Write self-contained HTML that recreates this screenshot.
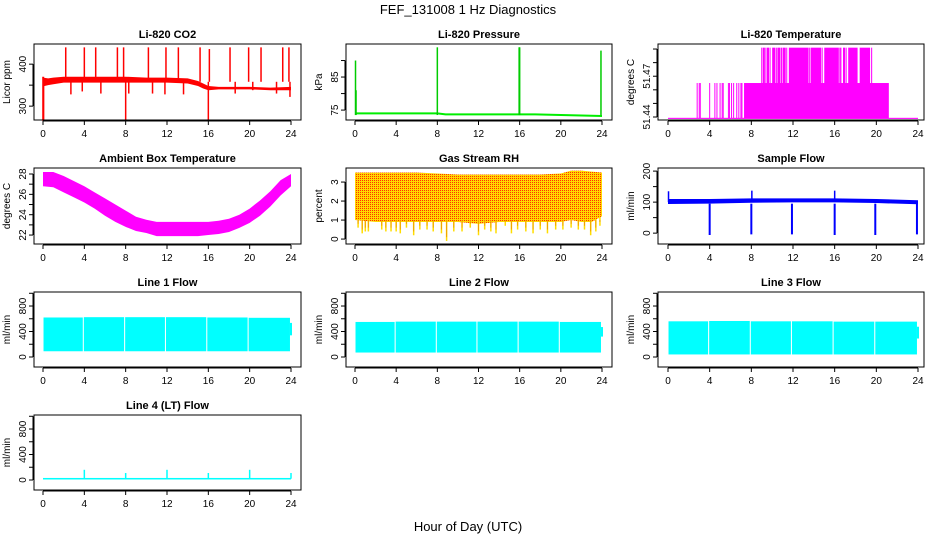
<!DOCTYPE html>
<html><head><meta charset="utf-8"><title>FEF_131008 1 Hz Diagnostics</title>
<style>
body{margin:0;background:#fff;}
svg{display:block;font-family:"Liberation Sans",sans-serif;}
</style></head>
<body>
<svg id="chart" width="936" height="540" viewBox="0 0 936 540" xmlns="http://www.w3.org/2000/svg">
<defs>
<pattern id="rhpat" width="2" height="2" patternUnits="userSpaceOnUse">
<rect width="2" height="2" fill="#ffd800"/><rect width="1" height="1" fill="#ff3000"/>
</pattern>
</defs>
<text x="468" y="14" text-anchor="middle" font-size="13">FEF_131008  1 Hz Diagnostics</text>
<text x="468" y="531" text-anchor="middle" font-size="13">Hour of Day (UTC)</text>
</svg>
<script>
// ---- data arrays ----
const xTicks = [0,4,8,12,16,20,24];
// CO2
const co2Hours = [0,0.5,1,2,4,6,8,10,12,14,15,15.5,16,17,20,22,24];
const co2Upper = [368,366,368,370,370,370,370,368,368,366,360,354,348,346,346,344,346];
const co2Lower = [347,350,352,356,356,356,356,356,356,354,348,342,338,340,340,338,338];
const co2SpikeHours = [0.05,2.2,2.7,4.0,3.8,5.1,5.6,7.2,7.8,8.0,8.3,10.2,10.6,11.9,11.8,13.1,13.6,15.2,16.0,16.1,18.1,18.6,19.9,20.3,21.1,22.6,23.2,23.8,23.9];
const co2SpikeVals  = [265,440,328,440,335,440,330,440,440,265,330,440,330,440,328,440,328,440,265,436,440,330,440,338,440,330,440,440,322];
// Pressure
const presHours = [0,8,8.8,17.5,24];
const presVals  = [74,74,73.7,73.7,73.2];
const presSpikeHours = [0.05,0.1,8.0,16.0,15.95,23.9];
const presSpikeVals  = [90,81,94,94,94,93];
// Li-820 Temperature
const tempBase = 51.439;
const tempMid = 51.465;
const tempHigh = 51.491;
const tempMidBlocks = [[7.3,21.2]];
const tempMidLines = [2.8,3.0,3.1,4.0,4.5,4.7,5.0,5.2,5.3,5.8,5.9,6.1,6.3,6.6,6.8,7.0,7.1];
const tempHighBlocks = [[9.1,9.3],[9.5,9.7],[10.0,10.3],[10.5,10.8],[11.0,11.3],[11.6,13.5],[13.7,14.7],[15.0,16.4],[16.8,17.0],[17.3,18.2],[18.4,19.4],[19.5,19.6]];
const tempHighLines = [9.0,9.4,9.8,10.4,10.9,11.4,13.6,14.8,16.5,16.6,17.1];
// Ambient box temperature
const ambHours = [0,1,2,3,4,5,6,7,8,9,10,11,12,13,14,15,16,17,18,19,20,21,22,23,24];
const ambUpper = [28.2,28.2,27.8,27.3,26.8,26.2,25.6,25.0,24.4,23.8,23.5,23.3,23.3,23.3,23.3,23.3,23.3,23.4,23.6,24.0,24.6,25.4,26.3,27.4,28.0];
const ambLower = [26.8,26.7,26.2,25.7,25.2,24.6,23.9,23.3,22.8,22.4,22.2,21.9,21.9,21.9,21.9,21.9,22.0,22.1,22.3,22.7,23.2,23.9,24.8,25.9,26.8];
// Gas stream RH
const rhHours = [0,2,4,6,8,10,12,14,16,18,20,21,22,23,24];
const rhUpper = [3.5,3.5,3.5,3.5,3.45,3.4,3.4,3.4,3.4,3.4,3.45,3.6,3.6,3.55,3.5];
const rhLower = [1.0,0.9,0.9,0.9,0.9,0.9,0.8,0.9,0.9,0.9,0.9,1.0,0.9,0.9,1.2];
const rhDipHours = [0.3,0.7,1.0,1.3,2.6,3.0,3.5,4.0,4.4,5.0,5.7,6.3,7.0,7.6,8.4,8.9,9.6,10.4,11.2,12.0,12.6,13.2,13.7,14.6,15.2,15.8,16.6,17.3,18.0,18.7,19.5,20.2,21.0,21.7,22.3,22.9,23.4,23.8];
const rhDipVals  = [0.6,0.3,0.4,0.4,0.5,0.4,0.4,0.4,0.3,0.6,0.2,0.5,0.5,0.4,0.3,-0.1,0.4,0.4,0.6,0.2,0.5,0.4,0.3,0.7,0.3,0.5,0.4,0.3,0.5,0.3,0.5,0.5,0.6,0.5,0.5,0.2,0.4,0.7];
// Sample flow
const sfHours = [0,4,8,12,16,20,24];
const sfUpper = [110,110,112,112,112,110,106];
const sfLower = [94,95,98,99,99,97,93];
const sfDipHours = [4.0,8.0,11.9,16.0,19.9,23.9];
const sfDipVals  = [-6,-4,-4,-6,-6,-4];
const sfSpikeHours = [0.05,8.05,16.0];
const sfSpikeVals  = [135,137,137];
// Line flows (segments between zero-flow gaps)
const segStarts = [0.05,3.95,7.95,11.9,15.9,19.9];
const segEnds   = [3.85,7.85,11.8,15.8,19.8,23.9];
const l1High = [620,625,625,625,620,615];
const l1Low  = [90,90,90,90,90,90];
const l2High = [550,555,555,555,555,550];
const l2Low  = [70,70,70,70,70,70];
const l3High = [560,565,560,560,555,555];
const l3Low  = [40,40,40,40,40,40];
// Line 4
const l4Base = 20;
const l4SpikeHours = [4.0,8.0,12.0,16.0,20.0,24.0];
const l4SpikeVals  = [160,110,160,110,160,110];

// ---- layout ----
const cols = [{l:34,r:301,x0:43,x1:291},{l:346,r:612,x0:355,x1:602},{l:658,r:924,x0:668,x1:918}];
const rows = [{t:44,b:120},{t:168,b:244},{t:292,b:367},{t:415,b:490}];
const NS = 'http://www.w3.org/2000/svg';
const svg = document.getElementById('chart');

function el(tag, attrs, parent){
  const e = document.createElementNS(NS, tag);
  for (const k in attrs) e.setAttribute(k, attrs[k]);
  (parent||svg).appendChild(e);
  return e;
}

function makePanel(name, title, ylab, c, r, ymin, ymax, ticks, labels){
  const C = cols[c], R = rows[r];
  const g = el('g', {});
  
  
  const xs = h => C.x0 + (h/24)*(C.x1-C.x0);
  const ys = v => R.b - (v-ymin)/(ymax-ymin)*(R.b-R.t);
  const data = el('g', {}, g);
  
  
  const box = el('rect', {x:C.l, y:R.t, width:C.r-C.l, height:R.b-R.t, fill:'none', stroke:'#000', 'stroke-width':1}, g);
  
  
  const t = el('text', {x:(C.l+C.r)/2, y:R.t-6, 'text-anchor':'middle', 'font-size':11, 'font-weight':'bold'}, g);
  t.textContent = title;
  
  
  const xa = el('g', {stroke:'#000'}, g);
  
  
  el('line', {x1:xs(0), x2:xs(24), y1:R.b+1, y2:R.b+1}, xa);
  xTicks.forEach(h => {
    el('line', {x1:xs(h), x2:xs(h), y1:R.b+1, y2:R.b+5}, xa);
    const tx = el('text', {x:xs(h), y:R.b+17, 'text-anchor':'middle', 'font-size':10, stroke:'none'}, xa);
    tx.textContent = h;
    
    
  });
  const ya = el('g', {stroke:'#000'}, g);
  
  
  el('line', {x1:C.l-1, x2:C.l-1, y1:ys(ticks[0]), y2:ys(ticks[ticks.length-1])}, ya);
  ticks.forEach(v => {
    el('line', {x1:C.l-5, x2:C.l-1, y1:ys(v), y2:ys(v)}, ya);
  });
  labels.forEach(v => {
    const yy = ys(v);
    const tx = el('text', {x:0, y:0, transform:'translate('+(C.l-8)+','+yy+') rotate(-90)', 'text-anchor':'middle', 'font-size':10, stroke:'none'}, ya);
    tx.textContent = String(v);
    
    
  });
  const yl = el('text', {x:0, y:0, transform:'translate('+(C.l-24)+','+((R.t+R.b)/2)+') rotate(-90)', 'text-anchor':'middle', 'font-size':10}, g);
  yl.textContent = ylab;
  
  
  return {g:data, xs, ys};
}

function band(p, hours, up, lo, fill, name){
  let d = 'M' + hours.map((h,i)=>p.xs(h)+','+p.ys(up[i])).join('L');
  for (let i=hours.length-1;i>=0;i--) d += 'L'+p.xs(hours[i])+','+p.ys(lo[i]);
  const e = el('path', {d:d+'Z', fill:fill, stroke:'none'}, p.g);
  
  
}
function vline(p, h, v1, v2, color, w, name){
  const e = el('line', {x1:p.xs(h), x2:p.xs(h), y1:p.ys(v1), y2:p.ys(v2), stroke:color, 'stroke-width':w||1.5}, p.g);
  
  
}
function rectH(p, h1, h2, v1, v2, fill, name){
  const e = el('rect', {x:p.xs(h1), y:p.ys(v2), width:p.xs(h2)-p.xs(h1), height:p.ys(v1)-p.ys(v2), fill:fill}, p.g);
  
  
}

// CO2
let p = makePanel('co2','Li-820 CO2','Licor ppm',0,0,267,448,[300,350,400],[300,400]);
band(p, co2Hours, co2Upper, co2Lower, '#ff0000', 'co2-band');
co2SpikeHours.forEach((h,i)=>vline(p,h,358,co2SpikeVals[i],'#ff0000',1.5,'co2-spike'));
vline(p,0.02,370,265,'#ff0000',2,'co2-start');

// Pressure
p = makePanel('pressure','Li-820 Pressure','kPa',1,0,72,95,[75,80,85,90],[75,85]);
{
  const d = 'M'+presHours.map((h,i)=>p.xs(h)+','+p.ys(presVals[i])).join('L');
  const e = el('path',{d:d,fill:'none',stroke:'#00ee00','stroke-width':2},p.g);
  
  
}
presSpikeHours.forEach((h,i)=>vline(p,h,73.5,presSpikeVals[i],'#00cc00',1.5,'pressure-spike'));

// Li-820 temperature
p = makePanel('li820-temp','Li-820 Temperature','degrees C',2,0,51.4378,51.4937,[51.44,51.45,51.46,51.47,51.48,51.49],[51.44,51.47]);
rectH(p,0,24,tempBase-0.0004,tempBase+0.0004,'#ff00ff','temp-base');
tempMidBlocks.forEach(b=>rectH(p,b[0],b[1],tempBase,tempMid,'#ff00ff','temp-mid-block'));
tempMidLines.forEach(h=>vline(p,h,tempBase,tempMid,'#ff00ff',1,'temp-mid-line'));
tempHighBlocks.forEach(b=>rectH(p,b[0],b[1],tempBase,tempHigh,'#ff00ff','temp-high-block'));
tempHighLines.forEach(h=>vline(p,h,tempBase,tempHigh,'#ff00ff',1,'temp-high-line'));

// Ambient
p = makePanel('ambient','Ambient Box Temperature','degrees C',0,1,21.12,28.59,[22,23,24,25,26,27,28],[22,24,26,28]);
band(p, ambHours, ambUpper, ambLower, '#ff00ff', 'ambient-band');

// RH
p = makePanel('rh','Gas Stream RH','percent',1,1,-0.26,3.74,[0,1,2,3],[0,1,2,3]);
rhDipHours.forEach((h,i)=>vline(p,h,1.2,rhDipVals[i],'#ffdd00',1.5,'rh-dip'));
band(p, rhHours, rhUpper, rhLower, 'url(#rhpat)', 'rh-band');
rhDipHours.forEach((h,i)=>vline(p,h,1.0,rhDipVals[i]+0.2,'#f0a000',1,'rh-dip-core'));

// Sample flow
p = makePanel('sample-flow','Sample Flow','ml/min',2,1,-35,210,[0,50,100,150,200],[0,100,200]);
band(p, sfHours, sfUpper, sfLower, '#0000ff', 'sample-flow-band');
sfDipHours.forEach((h,i)=>vline(p,h,95,sfDipVals[i],'#0000ff',2,'sample-flow-dip'));
sfSpikeHours.forEach((h,i)=>vline(p,h,100,sfSpikeVals[i],'#0000ff',1.5,'sample-flow-spike'));

// Line flows
const flowTicks=[0,200,400,600,800,1000], flowLabels=[0,400,800];
[['line1','Line 1 Flow',0,l1High,l1Low],['line2','Line 2 Flow',1,l2High,l2Low],['line3','Line 3 Flow',2,l3High,l3Low]].forEach(cfg=>{
  const q = makePanel(cfg[0],cfg[1],'ml/min',cfg[2],2,-157,1020,flowTicks,flowLabels);
  segStarts.forEach((s,i)=>rectH(q,s,segEnds[i],cfg[4][i],cfg[3][i],'#00ffff',cfg[0]+'-segment'));
  vline(q,24,cfg[4][5]+250,cfg[3][5]-80,'#00ffff',2,cfg[0]+'-end');
});

// Line 4
p = makePanel('line4','Line 4 (LT) Flow','ml/min',0,3,-157,1020,flowTicks,flowLabels);
rectH(p,0,24,l4Base-12,l4Base+12,'#00ffff','line4-base');
l4SpikeHours.forEach((h,i)=>vline(p,h,l4Base,l4SpikeVals[i],'#00ffff',1.5,'line4-spike'));
</script>
</body></html>
